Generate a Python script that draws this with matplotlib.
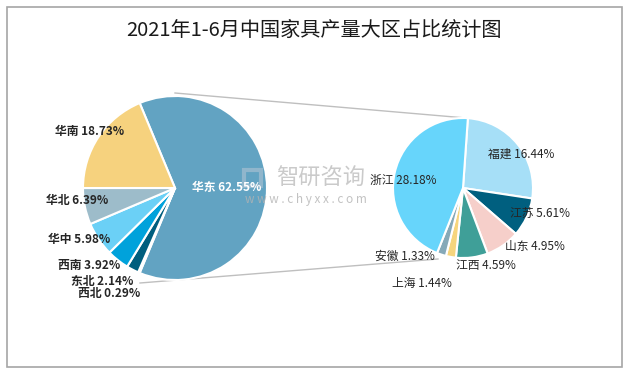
import matplotlib.pyplot as plt
import numpy as np

plt.rcParams['font.family'] = ['Noto Sans CJK SC', 'DejaVu Sans']

# Data: main pie (regions) and secondary pie (provinces in 华东)
region_names = ["华东", "西北", "东北", "西南", "华中", "华北", "华南"]
region_values = [62.55, 0.29, 2.14, 3.92, 5.98, 6.39, 18.73]
region_colors = ["#62A3C2", "#4D8FA8", "#005E7E", "#00A2DB", "#6BD0F6", "#9DBCCA", "#F6D27E"]

province_names = ["福建", "江苏", "山东", "江西", "上海", "安徽", "浙江"]
province_values = [16.44, 5.61, 4.95, 4.59, 1.44, 1.33, 28.18]
province_colors = ["#A6DFF7", "#005F7F", "#F6CFCA", "#3F9F98", "#F6D57D", "#86A9B8", "#67D5FB"]

# label positions in pixel coords (figure is 629 x 374)
region_label_pos = [(227, 187), (109, 293), (102, 281), (89, 265), (79, 239), (77, 200), (90, 131)]
province_label_pos = [(521, 154), (540, 213), (535, 246), (486, 265), (422, 283), (405, 256), (403, 180)]

W, H = 629, 374
fig = plt.figure(figsize=(W / 100, H / 100), dpi=100)
ax = fig.add_axes([0, 0, 1, 1])

# outer frame
ax.add_patch(plt.Rectangle((7, 7), 615, 360, fill=False, ec="#A6A6A6", lw=1.2))

ax.text(314, 30, "2021年1-6月中国家具产量大区占比统计图", ha="center", va="center",
        fontsize=14.5, color="#1a1a1a")

# connector lines (drawn first, pies cover them)
c1, r1 = (175, 188), 92
c2, r2 = (463, 188), 70
ax.plot([c1[0], c2[0] + 3], [c1[1] - r1 - 3, c2[1] - r2], color="#BFBFBF", lw=1, zorder=1)
ax.plot([140, 438], [283, 259], color="#BFBFBF", lw=1, zorder=1)

# y axis is inverted (pixel coords), so angles are mirrored:
# start at -angle and go counter-clockwise in data = clockwise on screen
half = region_values[0] / sum(region_values) * 360 / 2
ax.pie(region_values, colors=region_colors, startangle=-half, counterclock=True,
       center=c1, radius=r1, frame=True,
       wedgeprops=dict(edgecolor="white", linewidth=1.5))

ax.pie(province_values, colors=province_colors, startangle=-86, counterclock=True,
       center=c2, radius=r2, frame=True,
       wedgeprops=dict(edgecolor="white", linewidth=1.5))

ax.set_xlim(0, W)
ax.set_ylim(H, 0)
ax.set_aspect('equal')
ax.axis('off')

# watermark
ax.add_patch(plt.Rectangle((244, 170), 17, 16, fill=False, ec="#AFC4D3", lw=3,
                           alpha=0.6, zorder=6))
ax.text(321, 178, "智研咨询", ha="center", va="center", fontsize=16, color="#BDBDBD",
        alpha=0.8, zorder=6)
ax.text(306, 199, "w w w . c h y x x . c o m", ha="center", va="center", fontsize=8.5,
        color="#B3B3B3", alpha=0.8, zorder=6)

for name, val, (x, y) in zip(region_names, region_values, region_label_pos):
    col = "white" if name == "华东" else "#262626"
    ax.text(x, y, f"{name} {val:.2f}%", ha="center", va="center", fontsize=8.5,
            fontweight="bold", color=col, zorder=7)

for name, val, (x, y) in zip(province_names, province_values, province_label_pos):
    ax.text(x, y, f"{name} {val:.2f}%", ha="center", va="center", fontsize=8.5,
            color="#262626", zorder=7)

fig.savefig("out.png", dpi=100)
